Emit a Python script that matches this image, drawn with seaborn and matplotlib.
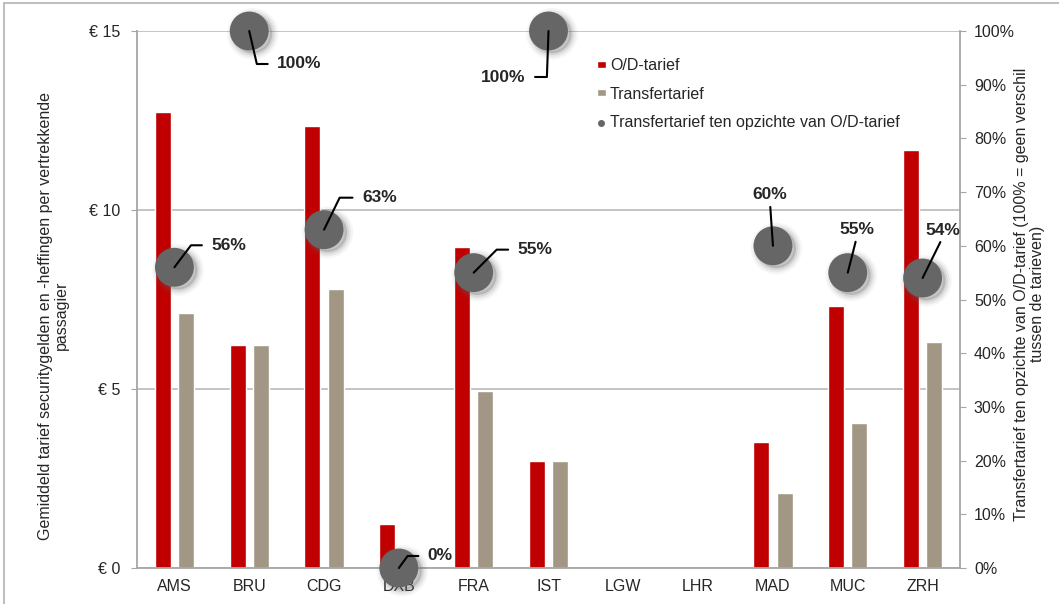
import numpy as np
import pandas as pd
import seaborn as sns
import matplotlib.pyplot as plt
import matplotlib.patheffects as pe
from matplotlib.lines import Line2D
from matplotlib.patches import Rectangle
from matplotlib.ticker import PercentFormatter, FixedLocator

# Chart values
airports = ['AMS', 'BRU', 'CDG', 'DXB', 'FRA', 'IST', 'LGW', 'LHR', 'MAD', 'MUC', 'ZRH']
od_tarief = [12.75, 6.23, 12.35, 1.23, 8.97, 3.00, np.nan, np.nan, 3.52, 7.32, 11.68]
transfer_tarief = [7.12, 6.23, 7.79, 0.00, 4.95, 3.00, np.nan, np.nan, 2.10, 4.05, 6.30]
ratio = [0.56, 1.00, 0.63, 0.00, 0.55, 1.00, np.nan, np.nan, 0.60, 0.55, 0.54]

series_names = ['O/D-tarief', 'Transfertarief']
ratio_name = 'Transfertarief ten opzichte van O/D-tarief'
left_ticks = [0, 5, 10, 15]
left_tick_labels = ['€ 0', '€ 5', '€ 10', '€ 15']
right_ticks = [0.0, 0.1, 0.2, 0.3, 0.4, 0.5, 0.6, 0.7, 0.8, 0.9, 1.0]
left_title = 'Gemiddeld tarief securitygelden en -heffingen per vertrekkende\npassagier'
right_title = 'Transfertarief ten opzichte van O/D-tarief (100% = geen verschil\ntussen de tarieven)'

# label placement for each ratio marker: (dx px, dy px, ha, connector angle or None)
label_pos = {
    'AMS': (37, 22, 'left', 53),
    'BRU': (28, -33, 'left', -77),
    'CDG': (38, 32, 'left', 64),
    'DXB': (29, 12, 'left', 54),
    'FRA': (44, 23, 'left', 45),
    'IST': (-23, -46, 'right', 88),
    'MAD': (-3, 51, 'center', None),
    'MUC': (9, 43, 'center', None),
    'ZRH': (20, 48, 'center', None),
}

red = '#C00000'
tan = '#A19784'
dot = '#666666'
grid_col = '#BFBFBF'
spine_col = '#A6A6A6'
fs = 11.5

df = pd.DataFrame({
    'airport': airports * 2,
    'tarief': od_tarief + transfer_tarief,
    'soort': [series_names[0]] * len(airports) + [series_names[1]] * len(airports),
})

sns.set_style('white')
plt.rcParams['font.family'] = ['Liberation Sans', 'DejaVu Sans']

fig = plt.figure(figsize=(10.59, 6.04), dpi=100)
ax = fig.add_axes([137 / 1059, 36 / 604, 823 / 1059, 537 / 604])

sns.barplot(data=df, x='airport', y='tarief', hue='soort', order=airports,
            hue_order=series_names, palette=[red, tan], width=0.62, gap=0.31,
            saturation=1, ax=ax, legend=False)

ax.set_ylim(0, 15)
ax.set_yticks(left_ticks)
ax.set_yticklabels(left_tick_labels)
ax.yaxis.grid(True, color=grid_col, lw=1.3)
ax.set_axisbelow(True)
ax.set_xlabel('')
ax.set_ylabel(left_title, fontsize=fs, linespacing=1.05)
ax.yaxis.set_label_coords(-0.083, 0.47)
ax.tick_params(axis='y', direction='out', length=4, color=spine_col, labelsize=fs, pad=8)
ax.tick_params(axis='x', which='major', length=0, labelsize=fs, pad=8)
ax.xaxis.set_minor_locator(FixedLocator(np.arange(-0.5, len(airports), 1.0)))
ax.tick_params(axis='x', which='minor', direction='out', length=4, color=spine_col, width=1.3)
for side in ['left', 'bottom', 'right']:
    ax.spines[side].set_color(spine_col)
    ax.spines[side].set_linewidth(1.3)
ax.spines['top'].set_visible(False)

ax2 = ax.twinx()
sns.pointplot(x=airports, y=ratio, order=airports, color=dot, errorbar=None,
              linestyle='none', marker='o', markersize=28, markeredgewidth=0, ax=ax2)
soft_shadow = [
    pe.Stroke(offset=(2.5, -2), linewidth=9, foreground=dot, alpha=0.06),
    pe.Stroke(offset=(2.5, -2), linewidth=6, foreground=dot, alpha=0.09),
    pe.Stroke(offset=(2.5, -2), linewidth=3, foreground=dot, alpha=0.14),
    pe.Normal(),
]
for ln in ax2.lines:
    ln.set_clip_on(False)
    ln.set_zorder(3)
    ln.set_path_effects(soft_shadow)

ax2.set_ylim(0, 1)
ax2.set_yticks(right_ticks)
ax2.yaxis.set_major_formatter(PercentFormatter(1.0, decimals=0))
ax2.tick_params(axis='y', direction='out', length=4, color=spine_col, labelsize=fs, pad=6)
ax2.set_ylabel(right_title, fontsize=fs, linespacing=1.05)
ax2.yaxis.set_label_coords(1.066, 0.51)
for side in ['left', 'bottom', 'right', 'top']:
    ax2.spines[side].set_visible(False)
ax2.grid(False)

# data labels with leader lines
for i, (name, r) in enumerate(zip(airports, ratio)):
    if np.isnan(r):
        continue
    dx, dy, ha, ang = label_pos[name]
    if ang is None:
        arrow = dict(arrowstyle='-', color='black', lw=1.5, shrinkA=1, shrinkB=0,
                     relpos=(0.5, 0.0))
    else:
        arrow = dict(arrowstyle='-', color='black', lw=1.5, shrinkA=4.5, shrinkB=0,
                     relpos=(0.0 if ha == 'left' else 1.0, 0.5),
                     connectionstyle=f'angle,angleA=0,angleB={ang},rad=0')
    ax2.annotate(f'{r:.0%}', xy=(i, r), xytext=(dx, dy), textcoords='offset pixels',
                 ha=ha, va='center', fontsize=12.5, fontweight='bold',
                 family=['Liberation Sans Narrow', 'Liberation Sans'], color='#262626',
                 arrowprops=arrow, annotation_clip=False, zorder=4)

# legend
handles = [
    Rectangle((0, 0), 1, 1, facecolor=red),
    Rectangle((0, 0), 1, 1, facecolor=tan),
    Line2D([], [], color=dot, marker='o', linestyle='none', markersize=4),
]
fig.legend(handles, series_names + [ratio_name], loc='upper left',
           bbox_to_anchor=(597 / 1059, 1 - 58 / 604), frameon=False, fontsize=fs,
           handlelength=0.55, handleheight=0.3, handletextpad=0.25, labelspacing=0.85,
           borderpad=0, borderaxespad=0)

# chart area border
fig.patches.append(Rectangle((4 / 1059, -0.1), 1.2, 1.1 - 3 / 604, transform=fig.transFigure,
                             fill=False, edgecolor=grid_col, lw=1.5))

fig.savefig('out.png', dpi=100)
plt.close(fig)
